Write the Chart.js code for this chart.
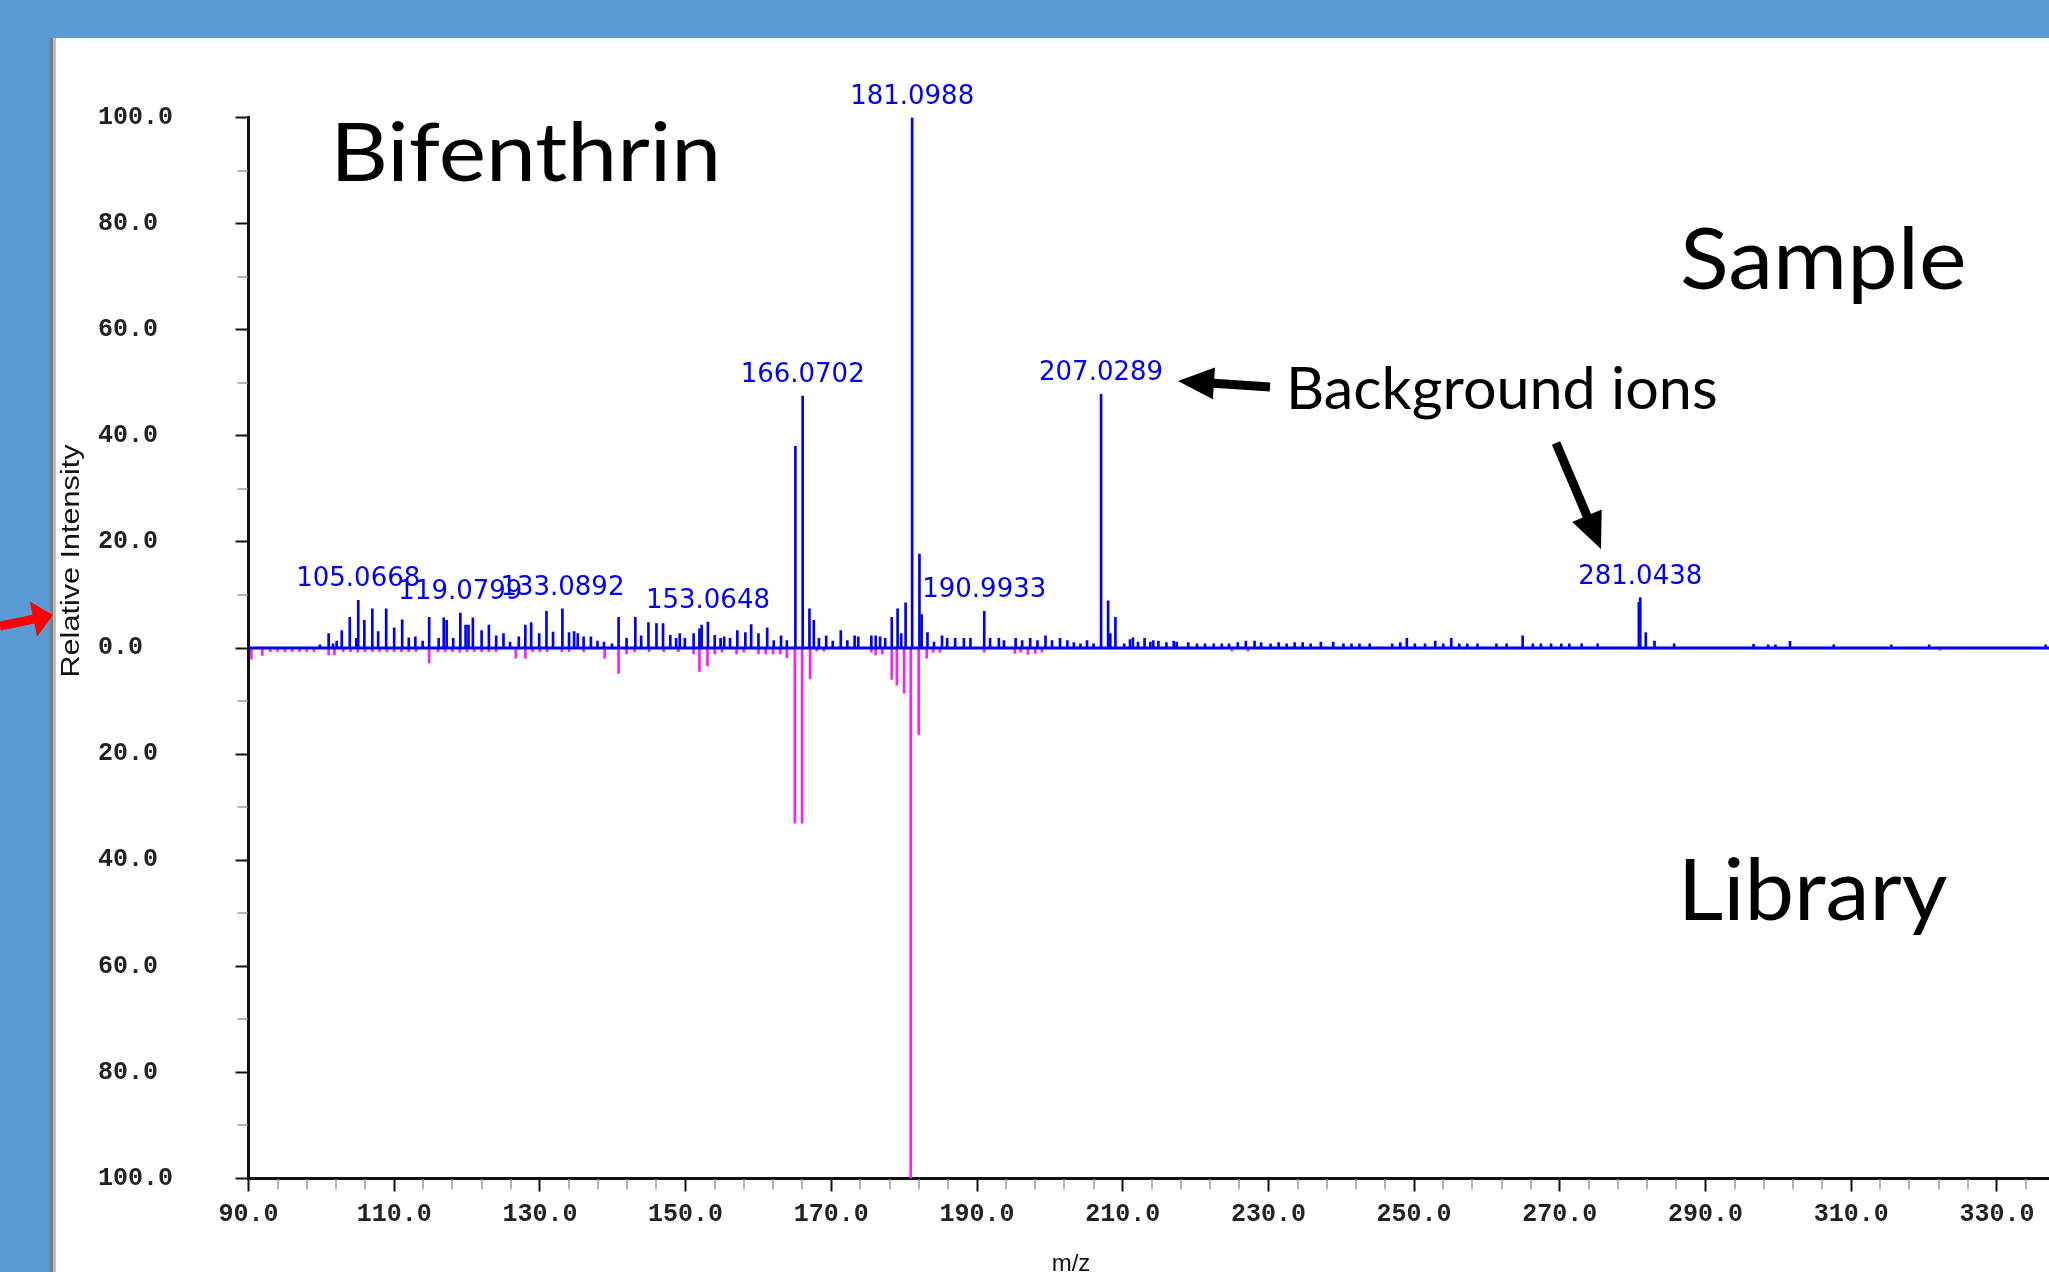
<!DOCTYPE html>
<html><head><meta charset="utf-8">
<script src="https://cdn.jsdelivr.net/npm/chart.js@4/dist/chart.umd.min.js"></script>
<style>
html,body{margin:0;padding:0;background:#5B9BD5;overflow:hidden}
#c{position:absolute;left:0;top:0}
</style></head><body>
<canvas id="c" width="2049" height="1272"></canvas>
<script>
// ---------- DATA ----------
const sampleMz = [99.8,101.0,101.6,102.1,102.8,103.9,104.8,105.0668,105.9,107.0,107.8,108.9,110.0,111.1,112.0,112.9,113.9,114.8,116.1,116.8,117.2,118.1,119.0799,119.8,120.2,120.8,122.0,123.0,124.0,125.0,125.9,127.1,128.0,128.8,129.9,130.9,131.8,133.0892,134.0,134.7,135.2,136.0,137.0,137.9,138.8,139.9,140.8,141.9,143.1,143.9,144.9,146.0,146.9,147.9,148.7,149.2,149.9,151.1,151.9,152.2,153.0648,154.0,154.8,155.3,156.1,157.1,158.2,159.0,160.0,161.2,162.1,163.1,163.9,165.07,166.0702,167.0,167.6,168.3,169.3,170.2,171.3,172.2,173.2,173.7,175.5,176.1,176.7,177.4,178.3,179.1,179.6,180.2,181.0988,182.1,182.4,183.2,184.1,185.2,185.9,187.0,188.2,189.1,190.9933,191.8,193.0,193.7,195.3,196.2,197.3,198.3,199.4,200.3,201.4,202.4,203.3,204.2,205.1,206.0,207.0289,208.0,208.3,209.0,210.2,211.0,211.4,212.1,213.0,213.8,214.2,214.9,216.0,217.0,217.4,219.0,220.2,221.3,222.5,223.6,224.6,225.8,226.9,228.1,229.0,230.3,231.4,232.5,233.6,234.7,235.8,237.2,238.9,240.3,241.4,242.5,243.9,247.0,248.1,249.0,250.1,251.5,252.9,254.0,255.1,256.2,257.3,258.7,261.3,262.7,264.9,266.3,267.4,268.8,270.2,271.3,273.0,275.2,280.85,281.0438,281.8,283.0,285.7,296.6,298.6,299.6,301.6,307.6,315.5,320.7,336.7];
const sampleIntensity = [0.6,2.7,0.8,1.3,3.3,5.8,1.8,9.0,5.2,7.4,3.1,7.4,3.8,5.3,1.9,2.1,1.3,5.8,1.8,5.7,5.2,1.8,6.6,4.3,4.3,5.7,3.3,4.3,2.3,2.7,1.1,2.1,4.3,4.8,2.7,6.9,3.0,7.4,2.9,3.1,2.7,2.1,2.1,1.3,1.1,0.8,5.8,1.8,5.8,2.3,4.8,4.6,4.6,2.4,1.8,2.7,1.8,2.7,3.6,4.3,4.9,2.4,1.8,2.1,1.8,3.3,2.9,4.4,2.7,3.8,1.4,2.3,1.4,38.0,47.5,7.4,5.2,1.8,2.3,1.3,3.3,1.4,2.3,2.1,2.3,2.3,2.1,1.8,5.8,7.4,2.7,8.5,100,17.7,6.3,2.9,1.1,2.3,1.8,1.8,1.8,1.8,6.9,1.8,1.8,1.4,1.8,1.4,1.8,1.4,2.3,1.4,1.8,1.4,1.0,0.8,1.4,0.8,47.8,8.9,2.7,5.8,0.8,1.6,1.9,1.1,1.8,1.1,1.4,1.3,1.0,1.3,1.1,1.0,0.8,0.8,0.8,0.8,0.8,1.0,1.3,1.3,1.0,0.8,1.0,0.8,1.0,1.0,0.8,1.1,1.1,0.8,0.8,0.8,0.8,0.8,1.0,1.8,0.8,0.8,1.3,0.8,1.8,0.8,0.8,0.8,0.8,0.8,2.3,0.8,0.8,0.8,0.8,0.8,0.8,0.8,8.6,9.5,2.9,1.3,0.8,0.7,0.6,0.6,1.25,0.6,0.6,0.6,0.6];
const libraryMz = [90.4,91.9,93.0,94.0,95.0,96.0,97.0,98.0,99.0,101.0,101.8,103.0,104.0,105.0,106.0,107.0,108.0,109.0,110.0,111.0,112.0,113.0,114.8,116.0,117.0,118.0,119.0,120.0,121.0,122.0,123.0,124.0,126.7,128.0,129.0,130.0,131.0,133.0,134.0,136.0,138.9,140.8,141.9,143.0,145.0,147.0,149.0,151.1,151.9,153.0,154.0,155.0,157.0,158.0,160.0,161.0,162.0,163.0,163.9,165.0,166.0,167.1,168.0,169.0,175.5,176.1,177.0,178.3,179.0,180.0,180.9,182.0,183.1,184.0,184.9,191.0,195.2,196.0,197.0,198.0,198.9,225.0,227.2,322.2];
const libraryIntensity = [2.1,1.4,0.7,0.7,0.7,0.7,0.7,0.7,0.7,1.3,1.3,0.7,0.7,0.8,0.7,0.7,0.7,0.7,0.7,0.7,0.7,0.7,2.8,0.7,0.7,0.7,0.8,0.7,0.7,0.7,0.7,0.7,1.9,1.9,0.7,0.7,0.7,0.7,0.7,0.7,1.9,4.8,1.1,0.7,0.7,0.7,0.7,1.1,4.4,3.4,1.1,0.8,1.1,0.8,1.1,1.1,1.1,1.1,1.8,33,33,5.8,0.6,0.6,0.8,1.3,1.1,5.9,7.0,8.5,100,16.3,1.9,0.8,0.8,0.8,1.0,0.8,1.2,1.0,0.8,0.6,0.6,0.4];
const peakLabelMz = [105.0668,119.0799,133.0892,153.0648,166.0702,181.0988,190.9933,207.0289,281.0438];
const peakLabelText = ['105.0668','119.0799','133.0892','153.0648','166.0702','181.0988','190.9933','207.0289','281.0438'];
const yTicks = [-100,-80,-60,-40,-20,0,20,40,60,80,100];
const xTicks = [90,110,130,150,170,190,210,230,250,270,290,310,330];
const xRange = [90, 337.15];
const yRange = [-100, 100];

// ---------- helpers ----------
const W = 2049, H = 1272;
const BLUE = '#0000F5', MAGENTA = '#FF1EFF';
const tickFont = {family:'"Liberation Mono", monospace', size:25, weight:'bold'};

function fitText(ctx, text, left, baseline, size, family, targetW, color) {
  ctx.save();
  ctx.font = size + 'px ' + family;
  ctx.textAlign = 'left'; ctx.textBaseline = 'alphabetic';
  const m = ctx.measureText(text);
  const ink = m.actualBoundingBoxRight + m.actualBoundingBoxLeft;
  const sx = targetW / ink;
  ctx.translate(left + m.actualBoundingBoxLeft * sx, baseline);
  ctx.scale(sx, 1);
  ctx.fillStyle = color;
  ctx.fillText(text, 0, 0);
  ctx.restore();
}
function arrow(ctx, x1, y1, x2, y2, shaftW, headL, headW, color) {
  const ang = Math.atan2(y2 - y1, x2 - x1), len = Math.hypot(x2 - x1, y2 - y1);
  ctx.save(); ctx.translate(x1, y1); ctx.rotate(ang); ctx.fillStyle = color;
  ctx.beginPath();
  ctx.moveTo(0, -shaftW / 2); ctx.lineTo(len - headL, -shaftW / 2); ctx.lineTo(len - headL, -headW / 2);
  ctx.lineTo(len, 0); ctx.lineTo(len - headL, headW / 2); ctx.lineTo(len - headL, shaftW / 2); ctx.lineTo(0, shaftW / 2);
  ctx.closePath(); ctx.fill(); ctx.restore();
}

const decor = {
  id: 'decor',
  beforeDraw(chart) {
    const ctx = chart.ctx;
    ctx.save();
    ctx.fillStyle = '#5B9BD5'; ctx.fillRect(0, 0, W, H);
    ctx.fillStyle = '#ffffff'; ctx.fillRect(56, 38, W - 56, H - 38);
    ctx.fillStyle = '#7c7c7c'; ctx.fillRect(50, 38, 3, H - 38);
    ctx.fillStyle = '#bdbdbd'; ctx.fillRect(53, 38, 3, H - 38);
    ctx.restore();
  },
  afterDatasetsDraw(chart) {
    const ctx = chart.ctx, xs = chart.scales.x, ys = chart.scales.y;
    ctx.save();
    ctx.font = '26px "DejaVu Sans"';
    ctx.fillStyle = BLUE; ctx.textAlign = 'center'; ctx.textBaseline = 'alphabetic';
    peakLabelMz.forEach((m, i) => {
      let h = 0;
      sampleMz.forEach((s, j) => { if (Math.abs(s - m) < 0.01) h = Math.max(h, sampleIntensity[j]); });
      ctx.fillText(peakLabelText[i], xs.getPixelForValue(m), ys.getPixelForValue(h) - 14);
    });
    ctx.restore();
  },
  afterDraw(chart) {
    const ctx = chart.ctx, xs = chart.scales.x, ys = chart.scales.y, ca = chart.chartArea;
    ctx.save();
    // minor ticks
    ctx.strokeStyle = '#b4b4b4'; ctx.lineWidth = 2;
    ctx.beginPath();
    for (let i = 0; i < yTicks.length - 1; i++) {
      const py = Math.round(ys.getPixelForValue((yTicks[i] + yTicks[i + 1]) / 2));
      ctx.moveTo(ca.left - 11, py); ctx.lineTo(ca.left - 1, py);
    }
    const step = (xTicks[1] - xTicks[0]) / 5;
    for (let v = xTicks[0] + step; v < xRange[1]; v += step) {
      if (Math.abs(((v - xTicks[0]) / (xTicks[1] - xTicks[0])) % 1) < 1e-6 || Math.abs(((v - xTicks[0]) / (xTicks[1] - xTicks[0])) % 1 - 1) < 1e-6) continue;
      const px = Math.round(xs.getPixelForValue(v));
      ctx.moveTo(px, ca.bottom + 1); ctx.lineTo(px, ca.bottom + 11);
    }
    ctx.stroke();

    // axis titles
    ctx.fillStyle = '#111';
    ctx.save();
    ctx.translate(72, 561); ctx.rotate(-Math.PI / 2);
    ctx.font = '25px "Liberation Sans"';
    const mt = ctx.measureText('Relative Intensity');
    ctx.scale(233 / mt.width, 1);
    ctx.textAlign = 'center'; ctx.textBaseline = 'middle';
    ctx.fillText('Relative Intensity', 0, 0);
    ctx.restore();
    ctx.font = '24px "Liberation Sans"'; ctx.textAlign = 'center'; ctx.textBaseline = 'alphabetic';
    ctx.fillText('m/z', 1071, 1271);

    // annotations
    const fam = 'Lato, "Open Sans", sans-serif';
    fitText(ctx, 'Bifenthrin', 338, 181, 82, fam, 378, '#000');
    fitText(ctx, 'Sample', 1682, 289, 86, fam, 282, '#000');
    fitText(ctx, 'Library', 1685, 920, 86, fam, 262, '#000');
    fitText(ctx, 'Background ions', 1291, 409, 59, fam, 425, '#000');

    arrow(ctx, 1270, 387, 1178, 381, 9, 36, 32, '#000');
    arrow(ctx, 1556, 443, 1601, 549, 9, 36, 32, '#000');
    arrow(ctx, 0, 626, 53, 615, 9, 20, 36, '#FF0000');
    ctx.restore();
  }
};

const sampleData = sampleMz.map((m, i) => ({x: m, y: sampleIntensity[i]}));
const libraryData = libraryMz.map((m, i) => ({x: m, y: -libraryIntensity[i]}));
const baselineData = xRange.map(v => ({x: v, y: 0}));

new Chart(document.getElementById('c'), {
  type: 'bar',
  data: {
    datasets: [
      {type: 'line', label: 'baseline', data: baselineData, borderColor: BLUE, borderWidth: 3, pointRadius: 0, order: 0},
      {label: 'Sample', data: sampleData, backgroundColor: BLUE, borderWidth: 0, barThickness: 2, stack: 'spec', order: 1},
      {label: 'Library', data: libraryData, backgroundColor: MAGENTA, borderWidth: 0, barThickness: 2, stack: 'spec', order: 2}
    ]
  },
  options: {
    responsive: false, animation: false, devicePixelRatio: 1,
    layout: {padding: {left: 98, top: 117.5, right: 0, bottom: 0}},
    plugins: {legend: {display: false}, tooltip: {enabled: false}, title: {display: false}},
    scales: {
      x: {
        type: 'linear', min: xRange[0], max: xRange[1], offset: false,
        afterBuildTicks: s => { s.ticks = xTicks.map(v => ({value: v})); },
        afterFit: s => { s.height = 93.5; },
        border: {display: true, color: '#111', width: 3},
        grid: {offset: false, drawOnChartArea: false, drawTicks: true, tickLength: 13, tickColor: '#111', tickWidth: 2},
        ticks: {padding: 8, maxRotation: 0, autoSkip: false, color: '#222', font: tickFont,
          callback: v => Number(v).toFixed(1)}
      },
      y: {
        type: 'linear', min: yRange[0], max: yRange[1], stacked: false,
        afterBuildTicks: s => { s.ticks = yTicks.map(v => ({value: v})); },
        afterFit: s => { s.width = 150.5; },
        border: {display: true, color: '#111', width: 3},
        grid: {drawOnChartArea: false, drawTicks: true, tickLength: 13, tickColor: '#111', tickWidth: 2},
        ticks: {crossAlign: 'far', color: '#222', font: tickFont,
          callback: v => Math.abs(v).toFixed(1)}
      }
    }
  },
  plugins: [decor]
});
</script>
</body></html>
